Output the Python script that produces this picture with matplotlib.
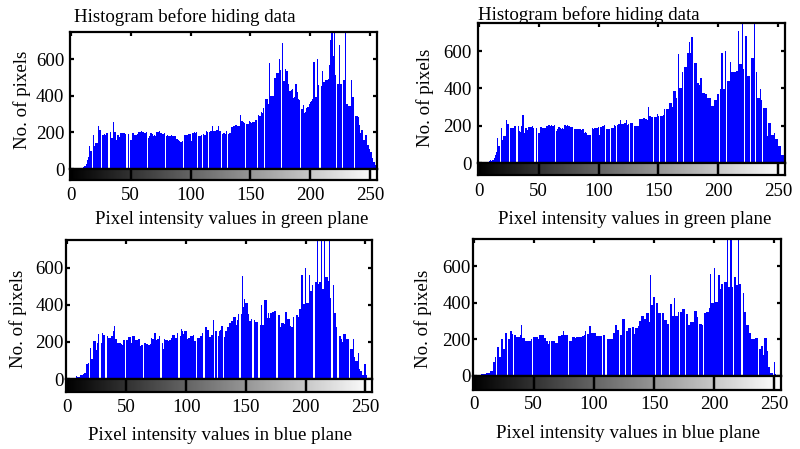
import numpy as np
import matplotlib
matplotlib.use("Agg")
import matplotlib.pyplot as plt

# ---------------- data ----------------
x_ticks = [0, 50, 100, 150, 200, 250]
x_tick_labels = ["0", "50", "100", "150", "200", "250"]
y_ticks = [0, 200, 400, 600]
y_tick_labels = ["0", "200", "400", "600"]

title_text = "Histogram before hiding data"
ylabel_text = "No. of pixels"
xlabel_green = "Pixel intensity values in green plane"
xlabel_blue = "Pixel intensity values in blue plane"

green_before = [
    0, 0, 0, 0, 0, 0, 0, 0, 4, 6, 8, 10, 15, 30, 50, 65,
    128, 97, 0, 187, 124, 140, 140, 232, 212, 212, 0, 185, 190, 185, 198, 198,
    0, 200, 167, 167, 257, 200, 158, 185, 185, 173, 195, 195, 195, 195, 191, 0,
    191, 0, 160, 160, 195, 187, 187, 187, 190, 202, 202, 205, 200, 202, 198, 202,
    0, 168, 180, 195, 190, 182, 185, 180, 203, 200, 205, 198, 195, 193, 195, 0,
    182, 185, 180, 182, 183, 180, 178, 182, 162, 165, 160, 151, 150, 152, 0, 185,
    183, 187, 191, 190, 192, 151, 195, 200, 198, 202, 0, 182, 180, 185, 0, 191,
    188, 205, 200, 0, 203, 208, 232, 209, 210, 208, 215, 232, 205, 208, 0, 191,
    195, 190, 209, 0, 191, 195, 230, 228, 232, 235, 238, 233, 235, 232, 295, 260,
    254, 250, 0, 245, 245, 263, 254, 250, 256, 254, 266, 270, 0, 295, 290, 311,
    305, 335, 0, 384, 384, 353, 578, 400, 398, 400, 494, 494, 524, 524, 600, 540,
    0, 686, 480, 548, 533, 533, 465, 425, 430, 434, 389, 395, 465, 420, 380, 375,
    0, 326, 350, 303, 310, 335, 340, 353, 367, 370, 384, 584, 395, 395, 600, 460,
    0, 452, 537, 476, 476, 485, 485, 490, 569, 704, 780, 614, 780, 515, 0, 465,
    677, 465, 465, 0, 488, 780, 353, 353, 344, 344, 488, 395, 395, 0, 290, 290,
    285, 240, 195, 214, 158, 158, 187, 187, 133, 110, 92, 92, 60, 38, 20, 0,
]

green_after = [
    8, 8, 8, 8, 8, 8, 8, 8, 8, 10, 16, 12, 18, 25, 43, 58,
    133, 92, 0, 187, 124, 142, 142, 232, 211, 211, 0, 185, 188, 185, 196, 198,
    0, 198, 170, 165, 200, 255, 160, 185, 185, 175, 195, 193, 195, 197, 190, 0,
    190, 0, 162, 160, 193, 187, 188, 185, 190, 200, 203, 204, 200, 203, 197, 202,
    0, 170, 180, 193, 190, 183, 185, 182, 202, 200, 204, 197, 196, 192, 195, 0,
    182, 184, 180, 183, 182, 180, 178, 181, 163, 164, 160, 152, 150, 150, 0, 186,
    183, 187, 190, 190, 191, 152, 195, 199, 198, 201, 0, 183, 180, 184, 0, 190,
    188, 204, 200, 0, 202, 208, 230, 210, 210, 207, 215, 232, 206, 208, 0, 214,
    214, 0, 196, 196, 196, 196, 238, 238, 238, 238, 240, 238, 236, 230, 300, 250,
    245, 245, 0, 245, 245, 260, 250, 0, 250, 250, 255, 290, 0, 290, 290, 322,
    322, 322, 300, 385, 385, 350, 0, 584, 403, 403, 490, 0, 512, 512, 587, 587,
    647, 587, 674, 0, 535, 535, 535, 430, 420, 458, 458, 377, 377, 368, 368, 346,
    346, 346, 308, 305, 305, 340, 340, 368, 368, 0, 395, 590, 395, 395, 598, 0,
    440, 440, 542, 485, 485, 485, 485, 494, 494, 706, 530, 530, 780, 503, 0, 683,
    467, 467, 467, 0, 560, 560, 780, 0, 490, 346, 346, 395, 340, 0, 295, 295,
    295, 142, 214, 214, 151, 151, 151, 160, 128, 128, 92, 92, 92, 43, 43, 0,
]

blue_before = [
    20, 5, 5, 6, 6, 7, 7, 8, 16, 12, 10, 12, 20, 22, 25, 34,
    34, 80, 88, 0, 166, 110, 110, 205, 205, 157, 193, 241, 0, 196, 250, 238,
    238, 0, 232, 220, 220, 220, 232, 259, 286, 214, 214, 196, 196, 196, 190, 184,
    211, 0, 211, 211, 227, 227, 196, 232, 232, 232, 211, 211, 214, 214, 178, 184,
    0, 196, 196, 187, 187, 185, 187, 223, 214, 214, 250, 210, 214, 214, 232, 0,
    193, 160, 214, 209, 209, 205, 212, 209, 223, 238, 238, 223, 223, 250, 0, 232,
    268, 260, 241, 259, 259, 214, 223, 223, 232, 232, 238, 205, 205, 0, 220, 220,
    232, 232, 250, 0, 281, 281, 263, 263, 227, 238, 238, 317, 0, 259, 0, 232,
    259, 263, 286, 0, 227, 259, 259, 281, 301, 301, 313, 313, 335, 335, 290, 317,
    350, 0, 350, 557, 391, 430, 409, 409, 350, 313, 313, 322, 0, 317, 310, 310,
    310, 0, 290, 398, 290, 290, 425, 425, 328, 355, 328, 355, 362, 362, 368, 368,
    0, 346, 346, 283, 301, 301, 295, 362, 362, 326, 326, 286, 281, 283, 332, 0,
    344, 344, 335, 377, 377, 562, 407, 407, 598, 412, 409, 562, 476, 476, 506, 0,
    521, 521, 780, 512, 521, 780, 485, 485, 780, 548, 548, 530, 780, 436, 0, 506,
    355, 355, 283, 0, 232, 232, 214, 200, 241, 241, 214, 214, 214, 0, 160, 160,
    214, 119, 97, 97, 139, 52, 43, 43, 20, 83, 83, 20, 2, 2, 5, 5,
]

blue_after = [
    6, 6, 6, 6, 8, 8, 8, 10, 10, 10, 12, 15, 15, 15, 30, 30,
    30, 77, 104, 0, 160, 160, 104, 200, 200, 150, 150, 236, 0, 200, 200, 245,
    232, 0, 227, 227, 213, 213, 213, 227, 281, 209, 209, 191, 191, 191, 191, 191,
    205, 0, 213, 213, 213, 213, 200, 227, 227, 227, 227, 209, 209, 191, 173, 191,
    0, 191, 191, 191, 182, 182, 182, 218, 218, 227, 227, 245, 227, 227, 227, 0,
    191, 191, 215, 212, 215, 210, 215, 212, 215, 212, 215, 220, 222, 245, 0, 230,
    272, 272, 236, 236, 236, 236, 218, 218, 218, 218, 218, 0, 227, 227, 0, 205,
    205, 205, 205, 205, 236, 236, 277, 277, 254, 0, 227, 227, 313, 313, 0, 245,
    245, 263, 263, 0, 268, 268, 232, 263, 263, 276, 299, 299, 330, 330, 312, 312,
    344, 344, 295, 551, 389, 389, 433, 0, 400, 398, 344, 344, 0, 344, 344, 308,
    308, 286, 286, 0, 395, 326, 326, 427, 326, 326, 353, 0, 350, 350, 368, 368,
    0, 339, 339, 281, 295, 295, 295, 295, 357, 357, 321, 0, 286, 286, 281, 0,
    346, 346, 353, 353, 375, 557, 398, 398, 593, 407, 407, 407, 551, 476, 506, 506,
    0, 512, 512, 780, 485, 485, 780, 485, 0, 542, 542, 497, 780, 503, 503, 0,
    452, 353, 353, 281, 281, 236, 236, 204, 204, 204, 209, 209, 209, 0, 146, 164,
    164, 114, 209, 209, 137, 47, 47, 14, 14, 0, 77, 11, 2, 2, 2, 0,
]

# ---------------- figure ----------------
W, H = 800, 449
fig = plt.figure(figsize=(W / 100, H / 100), dpi=100)
FONT = "Liberation Serif"
FS = 13.6
LW = 1.6
BLUE = "#0000ff"


def fx(px):
    return px / W


def fy(py):
    return 1 - py / H


panels = [
    dict(data=green_before, xlabel=xlabel_green, left=70, right=377, top=31.5,
         base=169, cb=180, tpad=5.0, ypad=4.0, xl=(232, 220), yl=(22, 100),
         title=(74, 17)),
    dict(data=green_after, xlabel=xlabel_green, left=478, right=785, top=23,
         base=163, cb=175, tpad=6.0, ypad=4.5, xl=(635, 220), yl=(425, 98),
         title=(478, 15)),
    dict(data=blue_before, xlabel=xlabel_blue, left=66, right=372, top=240,
         base=379, cb=392, tpad=5.4, ypad=1.5, xl=(220, 435), yl=(18, 319),
         title=None),
    dict(data=blue_after, xlabel=xlabel_blue, left=473, right=781, top=239,
         base=376, cb=390, tpad=4.4, ypad=1.5, xl=(628, 433), yl=(423, 319),
         title=None),
]

gradient = np.arange(256)[None, :]

for p in panels:
    vals = np.asarray(p["data"], dtype=float)
    bins = np.arange(len(vals))
    ax = fig.add_axes([fx(p["left"]), fy(p["base"]),
                       fx(p["right"] - p["left"]), (p["base"] - p["top"]) / H])
    ax.bar(bins, vals, width=1.0, color=BLUE, linewidth=0, antialiased=False)
    ax.set_xlim(-0.5, 255.5)
    ax.set_ylim(0, 750)
    ax.set_xticks(x_ticks)
    ax.tick_params(axis="x", bottom=False, top=True, labelbottom=False,
                   direction="in", length=3, width=LW)
    ax.set_yticks(y_ticks)
    ax.set_yticklabels(y_tick_labels, fontfamily=FONT, fontsize=FS)
    ax.tick_params(axis="y", left=True, right=True, direction="in",
                   length=3, width=LW, pad=p["ypad"])
    for s in ax.spines.values():
        s.set_linewidth(LW)

    cax = fig.add_axes([fx(p["left"]), fy(p["cb"]),
                        fx(p["right"] - p["left"]), (p["cb"] - p["base"]) / H])
    cax.imshow(gradient, cmap="gray", aspect="auto",
               extent=[-0.5, 255.5, 0, 1], interpolation="bilinear")
    cax.set_xlim(-0.5, 255.5)
    cax.set_ylim(0, 1)
    cax.set_yticks([])
    cax.set_xticks(x_ticks)
    cax.set_xticklabels(x_tick_labels, fontfamily=FONT, fontsize=FS)
    cax.tick_params(axis="x", top=True, bottom=True, direction="in",
                    length=(p["cb"] - p["base"]) * 0.72, width=LW,
                    pad=p["tpad"])
    for s in cax.spines.values():
        s.set_linewidth(LW)

    fig.text(fx(p["xl"][0]), fy(p["xl"][1]), p["xlabel"], ha="center",
             va="center", fontfamily=FONT, fontsize=FS)
    fig.text(fx(p["yl"][0]), fy(p["yl"][1]), ylabel_text, ha="center",
             va="center", rotation=90, fontfamily=FONT, fontsize=FS)
    if p["title"] is not None:
        fig.text(fx(p["title"][0]), fy(p["title"][1]), title_text, ha="left",
                 va="center", fontfamily=FONT, fontsize=FS)

fig.savefig("out.png", dpi=100)
